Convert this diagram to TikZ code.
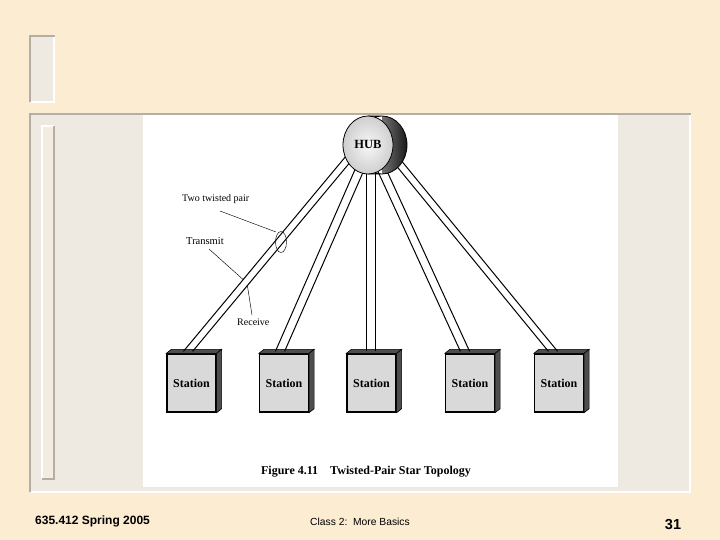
\documentclass[tikz,border=0pt]{standalone}
\usepackage{fontspec}
\setmainfont{Liberation Serif}
\newfontfamily\arialfont{Liberation Sans}
\usetikzlibrary{calc}
\definecolor{parch}{HTML}{FBECD2}
\definecolor{panel}{HTML}{EEEAE2}
\definecolor{edgegray}{HTML}{B4AFA6}
\definecolor{barfill}{HTML}{F4EDDF}
\definecolor{stfront}{HTML}{D9D9D9}
\definecolor{stdark}{HTML}{4E4E4E}
\begin{document}
\begin{tikzpicture}[x=1pt,y=-1pt,
  stationbox/.style={draw=black, line width=1.3pt, fill=stfront, minimum width=49pt, minimum height=58pt, inner sep=0pt, font=\fontsize{12}{12}\selectfont\bfseries},
  wire/.style={line width=1pt, black},
  leader/.style={line width=0.45pt, black},
  lbl/.style={font=\fontsize{10}{10}\selectfont, anchor=west, inner sep=0pt},
  darkface/.style={fill=stdark, draw=black, line width=0.6pt},
  foot/.style={inner sep=0pt, text=black}]

\useasboundingbox (0,0) rectangle (720,540);
\fill[parch] (0,0) rectangle (720,540);

% small panel
\fill[panel] (29,35) rectangle (55,103);
\draw[edgegray, line width=2pt] (30,102) -- (30,36) -- (55,36);
\draw[white, line width=2pt] (31,102) -- (54,102) -- (54,37);

% big panel
\fill[panel] (29,113) rectangle (691,493);
\draw[edgegray, line width=2pt] (30,492) -- (30,114) -- (691,114);
\draw[white, line width=2pt] (31,492) -- (690,492) -- (690,115);

% inner bar
\fill[barfill] (41,125) rectangle (55,480);
\draw[white, line width=1.5pt] (42,479) -- (42,126) -- (54,126);
\draw[edgegray, line width=1.5pt] (42,479) -- (54,479) -- (54,126);

% figure area
\fill[white] (143,115) rectangle (618,487);

% stations
\foreach \n/\x in {s1/191.5, s2/284, s3/371.5, s4/470, s5/559}{
  \node[stationbox] (\n) at (\x,383) {Station};
  \draw[darkface] (\n.north west) -- ++(5,-4) -- ($(\n.north east)+(5,-4)$) -- (\n.north east) -- cycle;
  \draw[darkface] (\n.north east) -- ++(5,-4) -- ($(\n.south east)+(5,-4)$) -- (\n.south east) -- cycle;
}

% hub attachment points
\coordinate (h1) at (354,152);
\coordinate (h2) at (366,155);
\coordinate (h3) at (371,155);
\coordinate (h4) at (375,155);
\coordinate (h5) at (388,150);

% station attachment points
\coordinate (b1) at ($(s1.north)+(-3.5,-2)$);
\coordinate (b2) at ($(s2.north)+(-4,-2)$);
\coordinate (b3) at ($(s3.north)+(-0.5,-2)$);
\coordinate (b4) at ($(s4.north)+(-5,-2)$);
\coordinate (b5) at ($(s5.north)+(-6,-2)$);

% twisted pairs
\foreach \i in {1,...,5}{
  \draw[wire] ($(b\i)+(-4.6,0)$) -- ($(h\i)+(-4.6,0)$);
  \draw[wire] ($(b\i)+(4.6,0)$) -- ($(h\i)+(4.6,0)$);
}

% hub
\shade[left color=gray!40, right color=black!90] (368,116) rectangle (382,174) (382,145) ellipse[x radius=25, y radius=29];
\draw[line width=0.8pt] (368,116) -- (382,116) (368,174) -- (382,174) (382,145) ellipse[x radius=25, y radius=29];
\draw[line width=0.8pt, shading=radial, inner color=gray!6, outer color=gray!38] (368,145) ellipse[x radius=25, y radius=29];
\node[font=\fontsize{12.5}{12.5}\selectfont\bfseries, inner sep=0pt] (hub) at (368,144) {HUB};

% annotations
\node[lbl] (tp) at (182,199) {Two twisted pair};
\node[lbl, font=\fontsize{10.5}{10.5}\selectfont] (tx) at (186,241) {Transmit};
\node[lbl] (rx) at (237,322) {Receive};

\coordinate (tpa) at (276,232);
\coordinate (txa) at ($($(b1)+(-4.6,0)$)!0.36!($(h1)+(-4.6,0)$)$);
\coordinate (rxa) at ($($(b1)+(4.6,0)$)!0.33!($(h1)+(4.6,0)$)$);

\draw[leader] (220,211) -- (tpa);
\draw[leader] (281,242) ellipse[x radius=5.5, y radius=10.5];
\draw[leader] (209,249) -- (txa);
\draw[leader] (252,315) -- (rxa);

% caption
\node[font=\fontsize{12}{12}\selectfont\bfseries, inner sep=0pt] (cap) at (366,472) {Figure 4.11\hspace{1em}Twisted-Pair Star Topology};

% footer
\node[foot, font=\arialfont\bfseries\fontsize{12}{12}\selectfont, anchor=west] (f1) at (35,521) {635.412 Spring 2005};
\node[foot, font=\arialfont\fontsize{10.3}{11}\selectfont, anchor=west] (f2) at (310,522) {Class 2:\ \ More Basics};
\node[foot, font=\arialfont\bfseries\fontsize{14.5}{15}\selectfont] (f3) at (673,525) {31};
\end{tikzpicture}
\end{document}
